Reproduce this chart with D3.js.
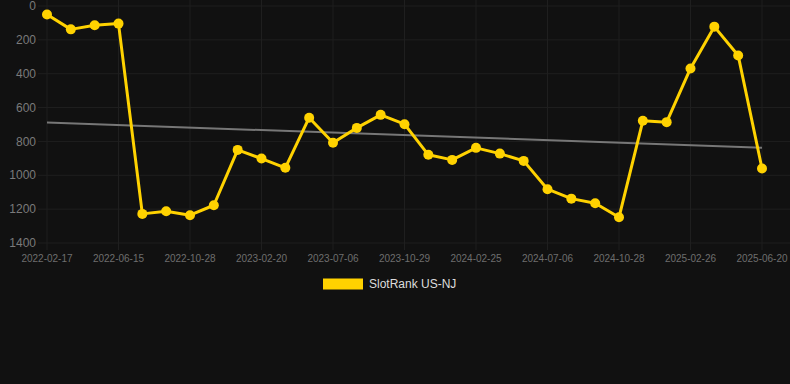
<!DOCTYPE html>
<html>
<head>
<meta charset="utf-8">
<script src="https://cdn.jsdelivr.net/npm/d3@7"></script>
<style>
  html, body { margin: 0; padding: 0; background: #111111; }
  #chart { width: 790px; height: 384px; }
</style>
</head>
<body>
<div id="chart"></div>
<script>
// one label per point, every third one shown on the axis
let labels = ["2022-02-17","2022-03-28","2022-05-07","2022-06-15","2022-07-24","2022-09-01",
  "2022-10-28","2022-12-07","2023-01-13","2023-02-20","2023-04-05","2023-05-21","2023-07-06",
  "2023-08-14","2023-09-21","2023-10-29","2023-12-08","2024-01-17","2024-02-25","2024-04-08",
  "2024-05-22","2024-07-06","2024-08-12","2024-09-20","2024-10-28","2024-12-06","2025-01-16",
  "2025-02-26","2025-04-06","2025-05-13","2025-06-20"]
let ranks = [50, 138, 114, 104, 1228, 1212, 1236, 1177, 850, 901, 956, 660, 808, 720, 643, 698,
  879, 909, 838, 872, 915, 1082, 1138, 1165, 1248, 678, 686, 369, 122, 292, 960]
let yTicks = [0, 200, 400, 600, 800, 1000, 1200, 1400]
let seriesName = "SlotRank US-NJ"

let width = 790
let height = 384
let plotLeft = 47, plotRight = 762
let plotTop = 6, plotBottom = 243

let yellow = "#ffd200"
let grid = "#1f1f1f"

let svg = d3.select("#chart").append("svg")
  .attr("width", width)
  .attr("height", height)
  .attr("viewBox", [0, 0, width, height])
  .style("background", "#111111")

let x = d3.scalePoint().domain(labels).range([plotLeft, plotRight])
let y = d3.scaleLinear().domain([0, 1400]).range([plotTop, plotBottom])

// grid lines
svg.append("g")
  .selectAll("line")
  .data(yTicks)
  .join("line")
  .attr("x1", 38).attr("x2", width)
  .attr("y1", d => y(d)).attr("y2", d => y(d))
  .attr("stroke", grid).attr("stroke-width", 1)

let tickLabels = labels.filter((d, i) => i % 3 === 0)

svg.append("g")
  .selectAll("line")
  .data(tickLabels)
  .join("line")
  .attr("x1", d => x(d)).attr("x2", d => x(d))
  .attr("y1", 0).attr("y2", plotBottom + 7)
  .attr("stroke", grid).attr("stroke-width", 1)

// y axis labels
svg.append("g")
  .selectAll("text")
  .data(yTicks)
  .join("text")
  .attr("x", 36)
  .attr("y", d => y(d))
  .attr("dy", "0.35em")
  .style("text-anchor", "end")
  .attr("font-family", "Liberation Sans, Arial, sans-serif").attr("font-size", 12)
  .attr("fill", "#7a7a7a")
  .text(d => d)

// x axis labels
svg.append("g")
  .selectAll("text")
  .data(tickLabels)
  .join("text")
  .attr("x", d => x(d))
  .attr("y", 262)
  .style("text-anchor", "middle")
  .attr("font-family", "Liberation Sans, Arial, sans-serif").attr("font-size", 10)
  .attr("fill", "#6e6e6e")
  .text(d => d)

// trend line (least squares on the series)
let n = ranks.length
let xs = d3.range(n)
let mx = d3.mean(xs), my = d3.mean(ranks)
let slope = d3.sum(xs, i => (i - mx) * (ranks[i] - my)) / d3.sum(xs, i => (i - mx) ** 2)
let icpt = my - slope * mx

svg.append("line")
  .attr("x1", x(labels[0])).attr("y1", y(icpt))
  .attr("x2", x(labels[n - 1])).attr("y2", y(icpt + slope * (n - 1)))
  .attr("stroke", "#777777").attr("stroke-width", 2)

// series line
let line = d3.line()
  .x((d, i) => x(labels[i]))
  .y(d => y(d))

svg.append("path")
  .datum(ranks)
  .attr("d", line)
  .attr("fill", "none")
  .attr("stroke", yellow)
  .attr("stroke-width", 3)
  .attr("stroke-linejoin", "round")

svg.append("g")
  .selectAll("circle")
  .data(ranks)
  .join("circle")
  .attr("cx", (d, i) => x(labels[i]))
  .attr("cy", d => y(d))
  .attr("r", 5)
  .attr("fill", yellow)

// legend
svg.append("rect")
  .attr("x", 323).attr("y", 278.5)
  .attr("width", 40).attr("height", 11)
  .attr("fill", yellow)

svg.append("text")
  .attr("x", 369).attr("y", 284)
  .attr("dy", "0.35em")
  .attr("font-family", "Liberation Sans, Arial, sans-serif").attr("font-size", 12)
  .attr("fill", "#dddddd")
  .text(seriesName)
</script>
</body>
</html>
